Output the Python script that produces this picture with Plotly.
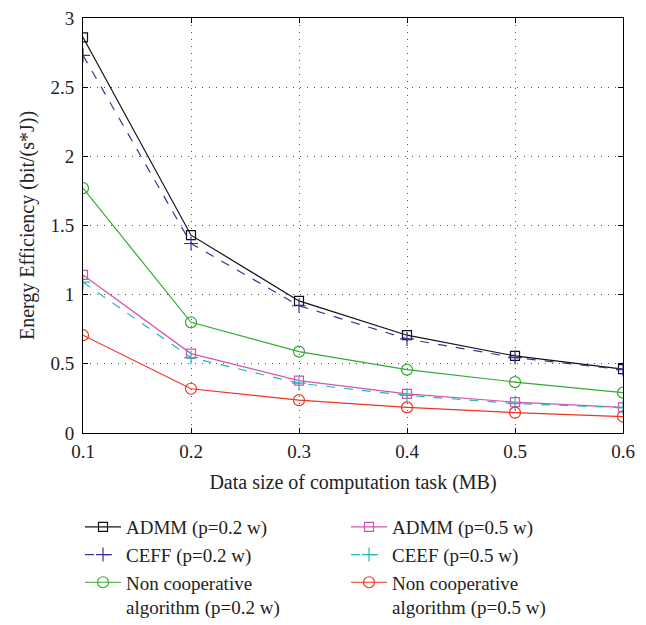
import plotly.graph_objects as go

x = [0.1, 0.2, 0.3, 0.4, 0.5, 0.6]
admm_02 = [2.86, 1.43, 0.955, 0.707, 0.557, 0.462]
ceff_02 = [2.73, 1.37, 0.92, 0.68, 0.545, 0.458]
nc_02 = [1.77, 0.80, 0.588, 0.458, 0.368, 0.292]
admm_05 = [1.143, 0.574, 0.379, 0.283, 0.223, 0.185]
ceef_05 = [1.09, 0.545, 0.36, 0.272, 0.213, 0.183]
nc_05 = [0.707, 0.32, 0.237, 0.185, 0.147, 0.119]

x_ticks = [0.1, 0.2, 0.3, 0.4, 0.5, 0.6]
x_tick_text = ["0.1", "0.2", "0.3", "0.4", "0.5", "0.6"]
y_ticks = [0, 0.5, 1, 1.5, 2, 2.5, 3]
y_tick_text = ["0", "0.5", "1", "1.5", "2", "2.5", "3"]

names = ["ADMM (p=0.2 w)", "CEFF (p=0.2 w)", "Non cooperative<br>algorithm (p=0.2 w)",
         "ADMM (p=0.5 w)", "CEEF (p=0.5 w)", "Non cooperative<br>algorithm (p=0.5 w)"]
series = [admm_02, ceff_02, nc_02, admm_05, ceef_05, nc_05]
colors = ["#111111", "#3b3399", "#33aa33", "#d354b0", "#22b8b8", "#ee3322"]
symbols = ["square-open", "cross-thin-open", "circle-open", "square-open", "cross-thin-open", "circle-open"]
dashes = ["solid", "dash", "solid", "solid", "dash", "solid"]
sizes = [9, 10, 11, 9, 10, 11]
legends = ["legend", "legend", "legend", "legend2", "legend2", "legend2"]

fig = go.Figure()
for n, s, c, sym, d, sz, lg in zip(names, series, colors, symbols, dashes, sizes, legends):
    fig.add_trace(go.Scatter(
        x=x, y=s, name=n, mode="lines+markers", legend=lg,
        line=dict(color=c, width=1.2, dash=d),
        marker=dict(symbol=sym, size=sz, color=c, line=dict(color=c, width=1.2)),
    ))

font_family = "Liberation Serif, Times New Roman, serif"
axis_common = dict(
    showline=True, linecolor="black", linewidth=1, mirror="ticks",
    ticks="inside", ticklen=5, tickcolor="black",
    showgrid=True, gridcolor="#555555", griddash="1px,6px", gridwidth=1,
    zeroline=False, tickfont=dict(size=19, color="#222222"), automargin=False,
    ticklabeloverflow="allow",
)

legend_common = dict(
    orientation="v", xref="paper", yref="paper", xanchor="left", yanchor="top",
    font=dict(size=19, color="#222222"), bgcolor="rgba(0,0,0,0)",
    itemwidth=36, valign="top", tracegroupgap=0,
)

# page has an 8px body margin; figure is made a bit taller than the window
# so the legend fits without shrinking the plot
off = 8
W, H = 646 - off, 650
L, R, T = 83 - off, 23, 18 - off
B = H - (433 - off)
plot_w = W - L - R
plot_h = H - T - B

fig.update_layout(
    width=W, height=H,
    margin=dict(l=L, r=R, t=T, b=B),
    paper_bgcolor="white", plot_bgcolor="white",
    font=dict(family=font_family, color="#222222"),
    xaxis=dict(range=[0.1, 0.6], tickvals=x_ticks, ticktext=x_tick_text,
               ticklabelstandoff=1,
               title=dict(text="Data size of computation task (MB)", font=dict(size=20), standoff=14),
               **axis_common),
    yaxis=dict(range=[0, 3], tickvals=y_ticks, ticktext=y_tick_text,
               ticklabelstandoff=4,
               title=dict(text="Energy Efficiency (bit/(s*J))", font=dict(size=20), standoff=10),
               **axis_common),
    legend=dict(x=(80 - 83) / plot_w, y=(433 - 508) / plot_h, **legend_common),
    legend2=dict(x=(346 - 83) / plot_w, y=(433 - 508) / plot_h, **legend_common),
    showlegend=True,
)

fig.write_html("out.html")
